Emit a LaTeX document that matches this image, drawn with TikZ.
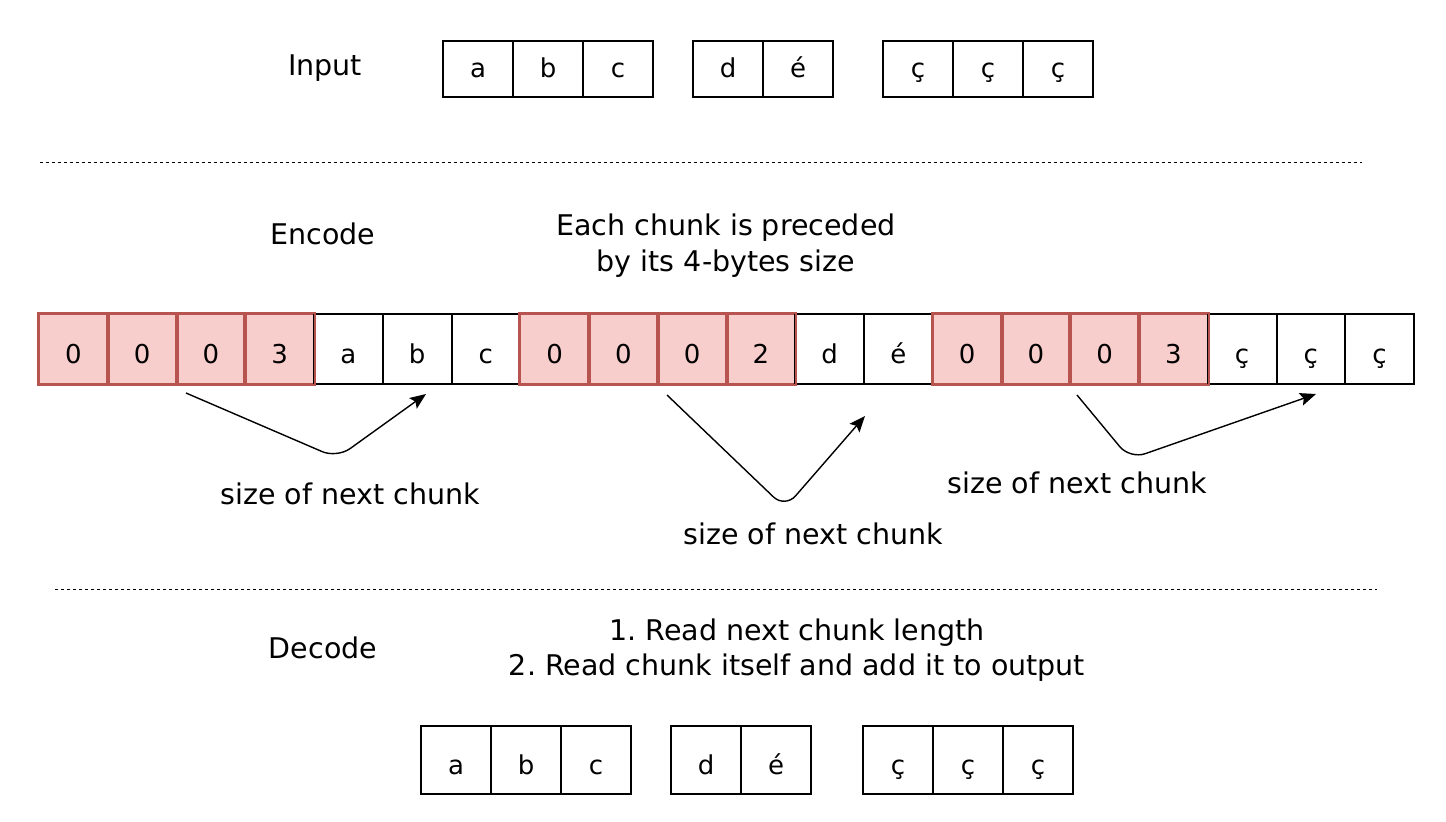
\documentclass[tikz,border=0pt]{standalone}
\usepackage{fontspec}
\setmainfont{DejaVu Sans}
\usetikzlibrary{arrows.meta}
\definecolor{hfill}{HTML}{F8CECC}
\definecolor{hdraw}{HTML}{B85450}
\frenchspacing
\begin{document}
\begin{tikzpicture}[x=1pt,y=-1pt,
  txt/.style={font=\fontsize{28.5}{36}\selectfont, align=center, inner sep=0pt},
  cellbase/.style={draw=black, line width=2pt, minimum width=70pt, minimum height=56pt, inner sep=0pt, font=\fontsize{26}{30}\selectfont, text height=29pt, text depth=0pt, anchor=north west},
  icell/.style={cellbase, text height=17pt},
  ecell/.style={cellbase, minimum width=68.75pt, minimum height=70pt},
  hcell/.style={ecell, fill=hfill, draw=hdraw},
  ocell/.style={cellbase, minimum height=68pt},
  sep/.style={line width=1pt, dash pattern=on 3pt off 3pt},
  conn/.style={line width=1.4pt, rounded corners=16pt, -{Stealth[length=16pt,width=13pt,inset=3pt]}}
]
\useasboundingbox (0,0) rectangle (1446,822);
\fill[white] (0,0) rectangle (1446,822);

% Input
\node[txt] (lin) at (325,68) {Input};
\node[icell] (i1) at (442,40) {a};
\node[icell] (i2) at (512,40) {b};
\node[icell] (i3) at (582,40) {c};
\node[icell] (i4) at (692,40) {d};
\node[icell] (i5) at (762,40) {é};
\node[icell] (i6) at (882,40) {ç};
\node[icell] (i7) at (952,40) {ç};
\node[icell] (i8) at (1022,40) {ç};

% separator 1
\coordinate (s1a) at (40,162);
\coordinate (s1b) at (1362,162);
\draw[sep] (s1a) -- (s1b);

% Encode
\node[txt] (lenc) at (323,234) {Encode};
\node[txt] (tenc) at (726,246) {Each chunk is preceded\\by its 4-bytes size};

\foreach \i/\t/\s in {1/0/hcell,2/0/hcell,3/0/hcell,4/3/hcell,5/a/ecell,6/b/ecell,7/c/ecell,
  8/0/hcell,9/0/hcell,10/0/hcell,11/2/hcell,12/d/ecell,13/é/ecell,
  14/0/hcell,15/0/hcell,16/0/hcell,17/3/hcell,18/ç/ecell,19/ç/ecell,20/ç/ecell}{
  \node[\s] (e\i) at ({38+(\i-1)*68.75},313) {\t};
}
% redraw red cell borders on top so shared edges keep the red colour
\foreach \i in {1,2,3,4,8,9,10,11,14,15,16,17}{
  \draw[draw=hdraw, line width=2pt] (e\i.north west) rectangle (e\i.south east);
}

% connectors
\coordinate (a1s) at (186,393);
\coordinate (a1m) at (337,458);
\coordinate (a1e) at (426,394);
\draw[conn] (a1s) -- (a1m) -- (a1e);
\node[txt] (l1) at (350,494) {size of next chunk};

\coordinate (a2s) at (667,395);
\coordinate (a2m) at (785,508);
\coordinate (a2e) at (865,416);
\draw[conn] (a2s) -- (a2m) -- (a2e);
\node[txt] (l2) at (813,534) {size of next chunk};

\coordinate (a3s) at (1077,395);
\coordinate (a3m) at (1130,459);
\coordinate (a3e) at (1316,394);
\draw[conn] (a3s) -- (a3m) -- (a3e);
\node[txt] (l3) at (1077,483) {size of next chunk};

% separator 2
\coordinate (s2a) at (55,589);
\coordinate (s2b) at (1377,589);
\draw[sep] (s2a) -- (s2b);

% Decode
\node[txt] (ldec) at (323,648) {Decode};
\node[txt, font=\fontsize{28.5}{35}\selectfont] (tdec) at (797,650) {1. Read next chunk length\\2. Read chunk itself and add it to output};

\node[ocell] (o1) at (420,725) {a};
\node[ocell] (o2) at (490,725) {b};
\node[ocell] (o3) at (560,725) {c};
\node[ocell] (o4) at (670,725) {d};
\node[ocell] (o5) at (740,725) {é};
\node[ocell] (o6) at (862,725) {ç};
\node[ocell] (o7) at (932,725) {ç};
\node[ocell] (o8) at (1002,725) {ç};
\end{tikzpicture}
\end{document}
